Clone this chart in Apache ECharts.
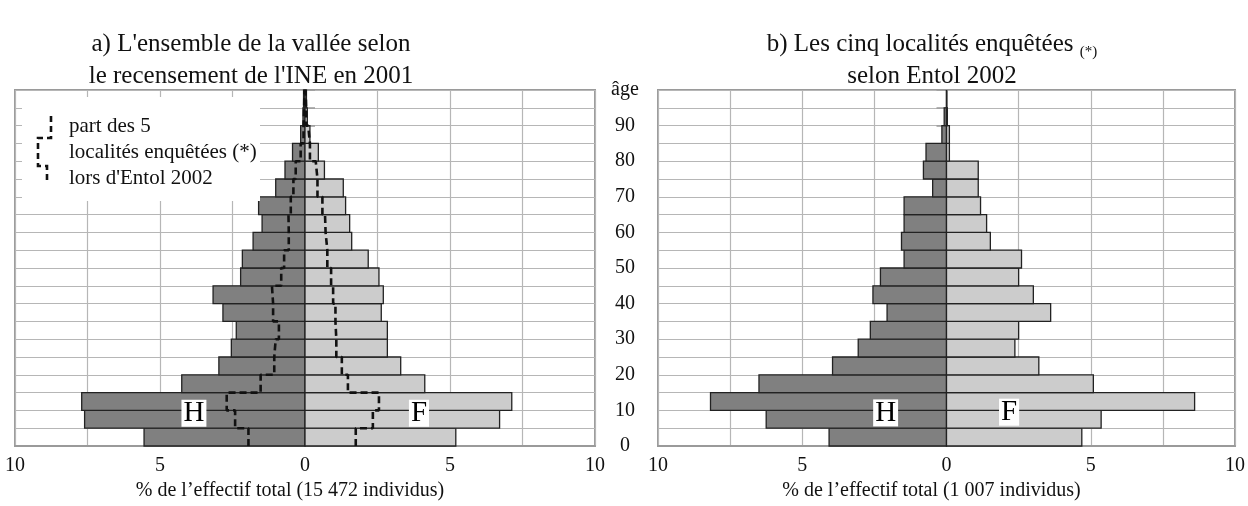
<!DOCTYPE html>
<html><head><meta charset="utf-8">
<script src="https://cdn.jsdelivr.net/npm/echarts@6/dist/echarts.min.js"></script>
<style>html,body{margin:0;padding:0;background:#fff}#c{width:1248px;height:506px}</style>
</head><body><div id="c"></div>
<script>
// Age groups (start of 5-year class), bottom to top
const ageStarts = [0,5,10,15,20,25,30,35,40,45,50,55,60,65,70,75,80,85,90,95];
// a) whole valley, INE census 2001 (% of total)
const valleyH = [5.55,7.6,7.7,4.25,2.97,2.54,2.37,2.83,3.17,2.22,2.16,1.79,1.48,1.6,1.01,0.69,0.43,0.15,0.07,0.05];
const valleyF = [5.2,6.71,7.13,4.13,3.3,2.84,2.84,2.63,2.7,2.55,2.18,1.61,1.54,1.4,1.32,0.67,0.46,0.17,0.08,0.05];
// share of the 5 surveyed localities (dashed step line)
const shareH = [1.95,2.41,2.7,1.53,1.06,1.01,0.9,1.1,1.14,0.82,0.72,0.56,0.57,0.49,0.4,0.32,0.15,0.05,0.03,0.02];
const shareF = [1.75,2.34,2.55,1.48,1.27,1.08,1.05,1.05,0.97,0.9,0.77,0.71,0.69,0.6,0.43,0.37,0.17,0.11,0.04,0.02];
// b) five surveyed localities, Entol 2002
const localH = [4.07,6.25,8.18,6.5,3.95,3.06,2.64,2.06,2.55,2.29,1.47,1.56,1.47,1.47,0.48,0.8,0.71,0.16,0.08,0];
const localF = [4.69,5.36,8.6,5.09,3.2,2.37,2.5,3.61,3.01,2.5,2.6,1.52,1.39,1.18,1.1,1.1,0.1,0.1,0.03,0];
// tick labels
const ageTickLabels = ['0','10','20','30','40','50','60','70','80','90','âge'];
const classWidth = 5;

const SERIF = 'Liberation Serif';
const chart = echarts.init(document.getElementById('c'), null, {renderer:'canvas'});

function barSeries(gridIdx, values, sign, color, name){
  return {
    type:'custom', name, xAxisIndex:gridIdx, yAxisIndex:gridIdx, z:3,
    data: ageStarts.map((a,i)=>[sign*values[i], a]),
    encode:{x:0, y:1},
    renderItem(params, api){
      const v = api.value(0), a = api.value(1);
      const p0 = api.coord([0, a]);
      const p1 = api.coord([v, a + classWidth]);
      return {type:'rect',
        shape:{x:Math.min(p0[0],p1[0]), y:p1[1], width:Math.abs(p1[0]-p0[0]), height:p0[1]-p1[1]},
        style:{fill:color, stroke:'#222', lineWidth:1.3}};
    }
  };
}
function stepData(values, sign){
  const out = [];
  ageStarts.forEach((a,i)=>{ out.push([sign*values[i], a]); out.push([sign*values[i], a+classWidth]); });
  return out;
}
function dashSeries(values, sign){
  return {type:'line', xAxisIndex:0, yAxisIndex:0, z:5, symbol:'none', silent:true,
    data: stepData(values, sign),
    lineStyle:{color:'#111', width:2.6, type:[7,4]}};
}
function tagSeries(gridIdx, pos, txt){
  return {type:'scatter', xAxisIndex:gridIdx, yAxisIndex:gridIdx, z:6, symbolSize:1, silent:true,
    itemStyle:{opacity:0},
    data:[pos],
    label:{show:true, position:'inside', formatter:txt, fontFamily:SERIF, fontSize:29,
      color:'#000', opacity:1, backgroundColor:'#ffffff', padding:[0,2,0,2], lineHeight:27}};
}

const gridline = {show:true, lineStyle:{color:'#b6b6b6', width:1.2}};
function xAxis(gridIdx, name){
  return {type:'value', gridIndex:gridIdx, min:-10, max:10, interval:2.5,
    splitLine:gridline,
    axisLine:{show:true, lineStyle:{color:'#9a9a9a', width:2}},
    axisTick:{show:false},
    axisLabel:{fontFamily:SERIF, fontSize:20, color:'#111', margin:10,
      formatter:v => (v % 5 === 0 ? String(Math.abs(v)) : '')},
    name, nameLocation:'middle', nameGap:35,
    nameTextStyle:{fontFamily:SERIF, fontSize:20, color:'#111', padding:[0,30,0,0]}};
}
function yAxis(gridIdx, pos, showLabels){
  return {type:'value', gridIndex:gridIdx, min:0, max:100, interval:5, position:pos,
    splitLine:gridline,
    axisLine:{show:true, lineStyle:{color:'#9a9a9a', width:2}},
    axisTick:{show:true, inside:false, length:10, lineStyle:{color:'#9a9a9a', width:1.5}},
    axisLabel:{show:showLabels, fontFamily:SERIF, fontSize:20, color:'#111', align:'center', margin:30,
      formatter:v => (v % 10 === 0 ? ageTickLabels[v/10] : '')}};
}

const option = {
  animation:false,
  backgroundColor:'#fff',
  grid:[
    {left:15, top:90, width:580, height:356, show:true, borderColor:'#9a9a9a', borderWidth:2},
    {left:658, top:90, width:580, height:356, show:true, borderColor:'#9a9a9a', borderWidth:2}
  ],
  xAxis:[xAxis(0,'% de l’effectif total (15 472 individus)'), xAxis(1,'% de l’effectif total (1 007 individus)')],
  yAxis:[yAxis(0,'right',true), yAxis(1,'left',false)],
  series:[
    barSeries(0, valleyH, -1, '#808080', 'H'),
    barSeries(0, valleyF, 1, '#cccccc', 'F'),
    dashSeries(shareH, -1),
    dashSeries(shareF, 1),
    barSeries(1, localH, -1, '#808080', 'H'),
    barSeries(1, localF, 1, '#cccccc', 'F'),
    tagSeries(0, [-3.83, 9.2], 'H'),
    tagSeries(0, [3.93, 9.2], 'F'),
    tagSeries(1, [-2.11, 9.3], 'H'),
    tagSeries(1, [2.17, 9.5], 'F')
  ],
  graphic:[
    {type:'text', x:251, y:28, z:10, style:{text:"a) L'ensemble de la vallée selon\nle recensement de l'INE en 2001",
      fontFamily:SERIF, fontSize:25, lineHeight:32, fill:'#111', align:'center', verticalAlign:'top'}},
    {type:'text', x:932, y:28, z:10, style:{text:"b) Les cinq localités enquêtées {s|(*)}\nselon Entol 2002",
      fontFamily:SERIF, fontSize:25, lineHeight:32, fill:'#111', align:'center', verticalAlign:'top',
      rich:{s:{fontFamily:SERIF, fontSize:15, fill:'#111', verticalAlign:'bottom', padding:[6,0,0,0]}}}},
    {type:'rect', x:22, y:97, z:8, shape:{width:238, height:104}, style:{fill:'#fff'}},
    {type:'polyline', z:9, shape:{points:[[51,116],[51,138],[38,138],[38,166],[47,166],[47,182]]},
      style:{stroke:'#111', lineWidth:2.6, lineDash:[6,4], fill:null}},
    {type:'text', x:69, y:113, z:9, style:{text:"part des 5\nlocalités enquêtées (*)\nlors d'Entol 2002",
      fontFamily:SERIF, fontSize:21, lineHeight:26, fill:'#111', align:'left', verticalAlign:'top'}}
  ]
};
chart.setOption(option);
</script></body></html>
